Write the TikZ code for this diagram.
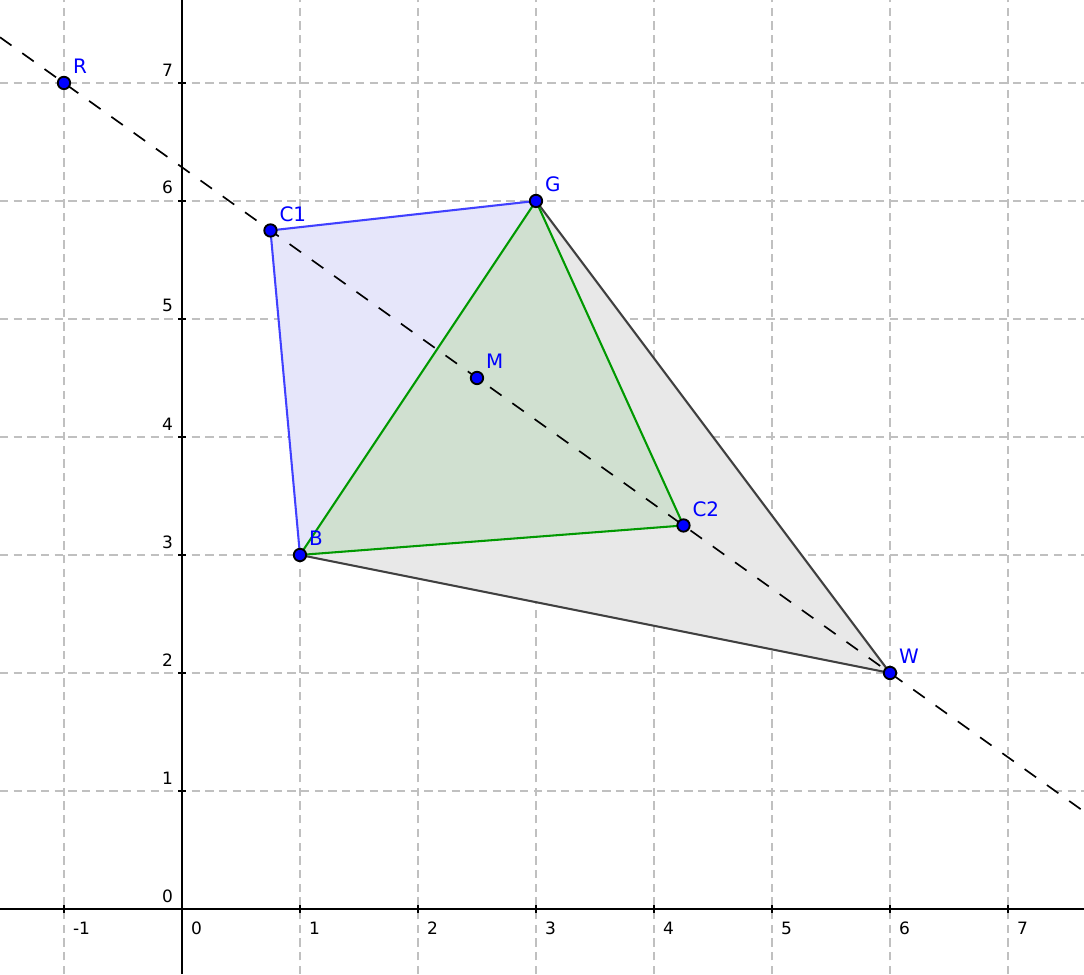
\documentclass[tikz,border=0pt]{standalone}
\usepackage{fontspec}
\setmainfont{DejaVu Sans}
\usetikzlibrary{calc}
\definecolor{gridgrey}{RGB}{192,192,192}
\definecolor{ptblue}{RGB}{0,0,255}
\definecolor{edgeblue}{RGB}{64,64,255}
\definecolor{edgegreen}{RGB}{0,153,0}
\definecolor{edgegrey}{RGB}{64,64,64}
\definecolor{fillgrey}{RGB}{232,232,232}
\definecolor{fillblue}{RGB}{230,230,250}
\definecolor{fillgreen}{RGB}{208,224,208}
\begin{document}
\begin{tikzpicture}[x=1cm,y=1cm,
  gridline/.style={draw=gridgrey,line width=0.45pt,dash pattern=on 2pt off 1.3pt},
  axisline/.style={draw=black,line width=0.4pt},
  pt/.style={circle,draw=black,fill=ptblue,line width=0.45pt,inner sep=0pt,minimum size=0.105cm},
  ptlabel/.style={anchor=south west,text=ptblue,font=\fontsize{4.8}{5}\selectfont,inner sep=0pt},
  ticklabel/.style={font=\fontsize{4.1}{4.5}\selectfont,inner sep=0pt},
  blueedge/.style={draw=edgeblue,line width=0.5pt},
  greenedge/.style={draw=edgegreen,line width=0.5pt},
  greyedge/.style={draw=edgegrey,line width=0.5pt},
  longline/.style={draw=black,line width=0.4pt,dash pattern=on 3.4pt off 3.2pt}]
\useasboundingbox (-1.542,-0.551) rectangle (7.644,7.703);
\fill[white] (-1.542,-0.551) rectangle (7.644,7.703);
% grid
\foreach \x in {-1,1,2,3,4,5,6,7} \draw[gridline] (\x,-0.551) -- (\x,7.703);
\foreach \y in {1,...,7} \draw[gridline] (-1.542,\y) -- (7.644,\y);
% coordinates
\coordinate (cR) at (-1,7);
\coordinate (cC1) at (0.75,5.75);
\coordinate (cG) at (3,6);
\coordinate (cM) at (2.5,4.5);
\coordinate (cC2) at (4.25,3.25);
\coordinate (cB) at (1,3);
\coordinate (cW) at (6,2);
% fills
\fill[fillgrey] (cB) -- (cG) -- (cW) -- cycle;
\fill[fillblue] (cB) -- (cC1) -- (cG) -- cycle;
\fill[fillgreen] (cB) -- (cG) -- (cC2) -- cycle;
% axes
\coordinate (xl) at (-1.542,0);
\coordinate (xr) at (7.644,0);
\coordinate (yb) at (0,-0.551);
\coordinate (yt) at (0,7.703);
\draw[axisline] (xl) -- (xr);
\draw[axisline] (yb) -- (yt);
\foreach \x in {-1,1,2,3,4,5,6,7} \draw[axisline] (\x,-0.03) -- (\x,0.03);
\foreach \y in {1,...,7} \draw[axisline] (-0.03,\y) -- (0.03,\y);
\foreach \x in {-1,0,1,2,3,4,5,6,7} \node[ticklabel,anchor=north west] (tx\x) at (\x+0.07,-0.1) {\x};
\foreach \y in {0,1,...,7} \node[ticklabel,anchor=south east] (ty\y) at (-0.07,\y+0.05) {\y};
% long dashed line
\coordinate (Lstart) at (-1.542,7.3871);
\coordinate (Lend) at (7.644,0.8257);
\draw[longline] (Lstart) -- (Lend);
% edges
\draw[greyedge] (cG) -- (cW) -- (cB);
\draw[blueedge] (cB) -- (cC1) -- (cG);
\draw[greenedge] (cG) -- (cB) -- (cC2) -- cycle;
% points
\foreach \n in {R,C1,G,M,C2,B,W} {
  \node[pt] (\n) at (c\n) {};
  \node[ptlabel] (l\n) at ($(c\n)+(0.07,0.07)$) {\n};
}
\end{tikzpicture}
\end{document}
